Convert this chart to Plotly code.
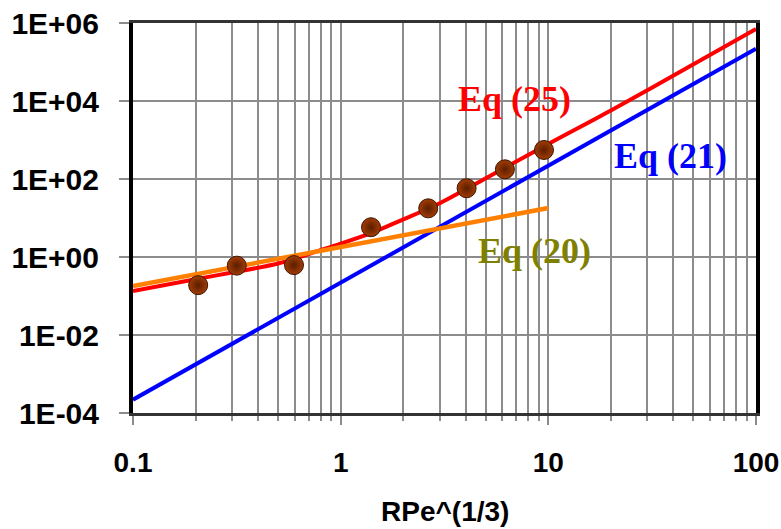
import plotly.graph_objects as go

# ---- data ----
x_exp = [0.206, 0.316, 0.596, 1.40, 2.64, 4.04, 6.18, 9.53]
y_exp = [0.19, 0.60, 0.62, 5.8, 17.7, 58, 177, 555]

x_eq25 = [0.1, 0.2, 0.3, 0.5, 0.8, 1.0, 1.4, 2.0, 3.0, 5.0, 10, 20, 50, 100]
y_eq25 = [0.134, 0.27, 0.40, 0.68, 1.5, 2.2, 4.1, 9.2, 24, 105, 790, 5700, 8.8e4, 7.0e5]

x_eq21 = [0.1, 100]
y_eq21 = [2.2e-4, 2.2e5]

x_eq20 = [0.1, 10]
y_eq20 = [0.18, 18]

x_tickvals = [0.1, 1, 10, 100]
x_ticktext = ["0.1", "1", "10", "100"]
y_tickvals = [1e-4, 1e-2, 1, 1e2, 1e4, 1e6]
y_ticktext = ["1E-04", "1E-02", "1E+00", "1E+02", "1E+04", "1E+06"]

labels = ["Eq (25)", "Eq (21)", "Eq (20)"]
label_colors = ["#ff0000", "#0000ff", "#808000"]

# ---- figure ----
fig = go.Figure()
fig.add_trace(go.Scatter(x=x_eq21, y=y_eq21, mode="lines",
                         line=dict(color="#0000ff", width=4)))
fig.add_trace(go.Scatter(x=x_eq25, y=y_eq25, mode="lines",
                         line=dict(color="#ff0000", width=4, shape="spline", smoothing=0.8)))
fig.add_trace(go.Scatter(x=x_eq20, y=y_eq20, mode="lines",
                         line=dict(color="#ff8000", width=4.5)))
fig.add_trace(go.Scatter(x=x_exp, y=y_exp, mode="markers",
                         marker=dict(size=19, color="#a33c05",
                                     gradient=dict(type="radial", color="#5a1e00"),
                                     line=dict(color="#3d1400", width=1))))

label_pos = [(0.613, 0.806), (0.862, 0.660), (0.645, 0.416)]
for txt, col, (px, py) in zip(labels, label_colors, label_pos):
    fig.add_annotation(text=txt, xref="paper", yref="paper", x=px, y=py,
                       xanchor="center", yanchor="middle", showarrow=False,
                       font=dict(family="Liberation Serif, Times New Roman, serif",
                                 size=36, color=col, weight="bold"))

fig.add_annotation(text="RPe^(1/3)", xref="paper", yref="paper", x=0.5, y=-0.252,
                   xanchor="center", yanchor="middle", showarrow=False,
                   font=dict(family="Liberation Sans, Arial, sans-serif", size=28,
                             color="black", weight="bold"))

fig.update_layout(
    width=781, height=529,
    margin=dict(l=133, r=25, t=23, b=116),
    paper_bgcolor="white", plot_bgcolor="white",
    showlegend=False,
)
fig.update_xaxes(
    type="log", range=[-1, 2], automargin=False,
    tickvals=x_tickvals, ticktext=x_ticktext,
    showgrid=False, zeroline=False,
    showline=True, linecolor="#333333", linewidth=2.5, mirror=True,
    ticks="outside", ticklen=9, tickwidth=1.5, tickcolor="#8c8c8c",
    ticklabelstandoff=14, ticklabeloverflow="allow",
    tickfont=dict(family="Liberation Sans, Arial, sans-serif", size=28,
                  color="black", weight="bold"),
    minor=dict(dtick="D1", showgrid=True, gridcolor="#8c8c8c", gridwidth=2,
               ticks="outside", ticklen=5, tickcolor="#8c8c8c", tickwidth=1.5),
)
fig.update_yaxes(
    type="log", range=[-4, 6], automargin=False,
    tickvals=y_tickvals, ticktext=y_ticktext,
    showgrid=True, gridcolor="#8c8c8c", gridwidth=2, zeroline=False,
    showline=True, linecolor="black", linewidth=4, mirror=True,
    ticks="outside", ticklen=10, tickwidth=2, tickcolor="#8c8c8c",
    ticklabelstandoff=14, ticklabeloverflow="allow",
    tickfont=dict(family="Liberation Sans, Arial, sans-serif", size=30,
                  color="black", weight="bold"),
)

# remove the default 8px body margin so the figure fills the window exactly
fig.write_html("out.html",
               config={"displayModeBar": False},
               post_script="document.body.style.margin='0px';document.body.style.overflow='hidden';")
